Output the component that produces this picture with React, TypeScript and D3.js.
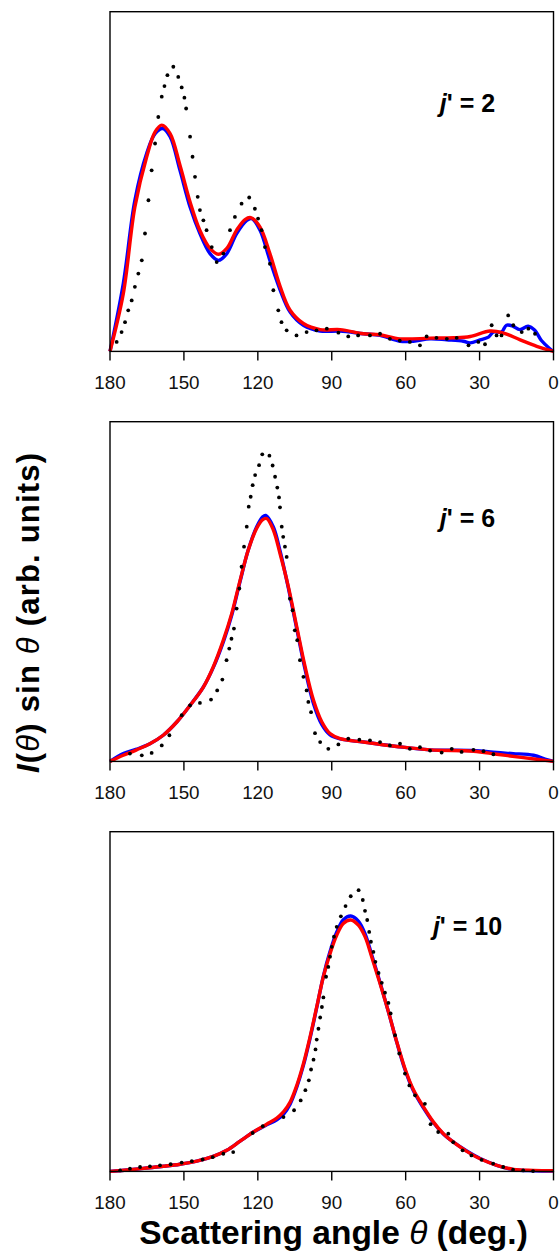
import * as d3 from "d3";

// angle (deg), intensity (arb.)
const j2Dots: [number, number][] = [
  [177.3, 0.028], [175.3, 0.057], [173.9, 0.086], [172.6, 0.121], [171.2, 0.15], [169.9, 0.19],
  [168.5, 0.229], [167.1, 0.268], [165.8, 0.347], [164.4, 0.445], [163.1, 0.533], [161.7, 0.612],
  [160.4, 0.69], [159.0, 0.75], [157.9, 0.781], [156.7, 0.813], [154.3, 0.838], [152.3, 0.808],
  [150.9, 0.777], [149.8, 0.747], [149.1, 0.715], [147.5, 0.632], [146.5, 0.573], [145.5, 0.514],
  [144.4, 0.455], [143.5, 0.416], [142.1, 0.386], [140.8, 0.357], [138.7, 0.307], [136.7, 0.263],
  [134.0, 0.288], [131.3, 0.357], [129.3, 0.396], [126.6, 0.435], [123.5, 0.453], [121.2, 0.42],
  [119.9, 0.391], [118.5, 0.357], [117.1, 0.307], [115.1, 0.258], [113.7, 0.18], [111.7, 0.121],
  [110.4, 0.086], [108.3, 0.062], [104.3, 0.047], [100.2, 0.057], [96.2, 0.062], [92.0, 0.067],
  [87.3, 0.055], [83.3, 0.044], [79.3, 0.047], [74.5, 0.047], [70.4, 0.052], [66.4, 0.037],
  [62.4, 0.032], [58.3, 0.028], [54.2, 0.018], [51.5, 0.044], [47.5, 0.04], [43.3, 0.037],
  [39.3, 0.04], [34.5, 0.018], [30.5, 0.028], [27.8, 0.021], [25.1, 0.077], [23.1, 0.047],
  [21.1, 0.047], [18.4, 0.106], [16.3, 0.077], [12.9, 0.057], [10.2, 0.067], [7.5, 0.052],
];
const j2Blue: [number, number][] = [
  [180, 0], [174.6, 0.2], [169.9, 0.445], [165.1, 0.583], [161.7, 0.641], [158.6, 0.656],
  [155.6, 0.632], [151.6, 0.533], [147.5, 0.425], [143.5, 0.347], [139.4, 0.288], [136.0, 0.268],
  [132.6, 0.288], [128.6, 0.347], [124.5, 0.386], [122.5, 0.391], [119.1, 0.357], [115.1, 0.268],
  [110.9, 0.18], [106.9, 0.116], [101.5, 0.077], [94.7, 0.06], [86.6, 0.06], [77.1, 0.052],
  [70.4, 0.047], [62.3, 0.03], [56.9, 0.03], [50.1, 0.037], [43.3, 0.034], [36.6, 0.03],
  [33.8, 0.025], [29.8, 0.034], [26.4, 0.042], [24.4, 0.057], [21.1, 0.057], [19.1, 0.077],
  [16.4, 0.074], [13.7, 0.064], [10.3, 0.074], [7.6, 0.062], [4.9, 0.032], [1.5, 0.008], [0, 0],
];
const j2Red: [number, number][] = [
  [180, 0], [174.6, 0.17], [169.9, 0.425], [165.1, 0.573], [161.7, 0.646], [159.0, 0.666],
  [155.6, 0.641], [151.6, 0.548], [147.5, 0.44], [143.5, 0.356], [139.4, 0.303], [136.0, 0.286],
  [132.6, 0.303], [128.6, 0.357], [125.2, 0.388], [122.9, 0.394], [119.1, 0.366], [115.1, 0.288],
  [110.9, 0.19], [106.9, 0.121], [101.5, 0.082], [94.7, 0.064], [86.6, 0.064], [77.1, 0.052],
  [70.4, 0.049], [62.3, 0.037], [50.1, 0.039], [40.6, 0.04], [33.8, 0.044], [25.7, 0.06],
  [20.3, 0.054], [13.5, 0.034], [6.8, 0.015], [0, 0],
];

const j6Dots: [number, number][] = [
  [171.9, 0.023], [167.1, 0.018], [163.1, 0.025], [159.0, 0.047], [155.9, 0.077], [150.9, 0.136],
  [147.5, 0.165], [143.5, 0.172], [139.0, 0.182], [136.5, 0.209], [134.4, 0.241], [132.7, 0.298],
  [131.6, 0.332], [130.7, 0.361], [129.7, 0.391], [128.6, 0.45], [127.5, 0.509], [126.6, 0.573],
  [125.6, 0.632], [124.5, 0.691], [123.7, 0.75], [122.9, 0.779], [122.1, 0.813], [121.1, 0.843],
  [119.5, 0.872], [118.2, 0.904], [115.3, 0.9], [114.0, 0.871], [113.0, 0.838], [112.1, 0.806],
  [111.4, 0.777], [111.0, 0.748], [110.3, 0.691], [109.7, 0.661], [109.0, 0.632], [108.3, 0.602],
  [107.0, 0.479], [105.9, 0.445], [105.0, 0.386], [104.0, 0.357], [102.9, 0.298], [101.5, 0.249],
  [100.2, 0.209], [99.5, 0.175], [98.4, 0.145], [96.8, 0.083], [94.7, 0.057], [91.4, 0.037],
  [87.3, 0.05], [83.3, 0.067], [78.8, 0.064], [74.5, 0.062], [70.4, 0.057], [66.4, 0.047],
  [62.3, 0.052], [58.3, 0.037], [54.2, 0.042], [50.1, 0.032], [45.4, 0.026], [41.3, 0.037],
  [37.3, 0.028], [32.5, 0.034], [28.4, 0.03], [24.4, 0.021],
];
const j6Blue: [number, number][] = [
  [180, 0], [174.6, 0.023], [169.2, 0.036], [163.8, 0.052], [158.4, 0.077], [152.9, 0.116],
  [147.5, 0.165], [142.1, 0.219], [138.1, 0.276], [134.0, 0.352], [130.6, 0.43], [127.2, 0.53],
  [123.9, 0.622], [120.5, 0.69], [118.0, 0.72], [116.8, 0.724], [113.7, 0.69], [111.0, 0.62],
  [107.6, 0.51], [104.2, 0.39], [100.8, 0.27], [97.4, 0.17], [94.0, 0.108], [90.7, 0.078],
  [86.6, 0.066], [77.1, 0.057], [63.6, 0.044], [50.1, 0.034], [32.5, 0.032], [23.0, 0.026],
  [16.3, 0.023], [8.1, 0.018], [2.7, 0.005], [0, 0],
];
const j6Red: [number, number][] = [
  [180, 0], [174.6, 0.018], [169.2, 0.034], [163.8, 0.052], [158.4, 0.077], [152.9, 0.116],
  [147.5, 0.165], [142.1, 0.219], [138.1, 0.278], [134.0, 0.357], [130.6, 0.435], [127.2, 0.533],
  [123.9, 0.622], [120.5, 0.686], [118.0, 0.712], [116.4, 0.715], [113.7, 0.681], [111.0, 0.612],
  [107.6, 0.514], [104.2, 0.396], [100.8, 0.278], [97.4, 0.18], [94.0, 0.116], [90.7, 0.082],
  [86.6, 0.067], [77.1, 0.057], [63.6, 0.044], [50.1, 0.034], [32.5, 0.03], [23.0, 0.021],
  [12.2, 0.011], [5.4, 0.005], [0, 0],
];

const j10Dots: [number, number][] = [
  [175.9, 0.003], [171.9, 0.008], [167.8, 0.013], [163.8, 0.015], [159.7, 0.018], [155.4, 0.021],
  [150.9, 0.026], [146.8, 0.03], [142.4, 0.035], [138.3, 0.042], [134.0, 0.052], [130.0, 0.057],
  [122.1, 0.113], [118.0, 0.133], [109.6, 0.16], [105.3, 0.18], [102.6, 0.209], [100.7, 0.239],
  [99.3, 0.268], [98.4, 0.3], [97.4, 0.329], [96.6, 0.359], [96.1, 0.388], [95.4, 0.42],
  [94.7, 0.453], [94.0, 0.484], [93.4, 0.512], [92.3, 0.573], [91.4, 0.602], [90.7, 0.632],
  [90.0, 0.661], [89.1, 0.691], [88.0, 0.72], [86.3, 0.751], [84.4, 0.781], [82.3, 0.81],
  [79.1, 0.828], [77.4, 0.799], [76.5, 0.767], [75.6, 0.74], [74.8, 0.705], [74.1, 0.676],
  [73.1, 0.646], [72.3, 0.617], [71.0, 0.584], [69.7, 0.555], [68.4, 0.526], [67.0, 0.496],
  [66.1, 0.465], [64.3, 0.401], [62.6, 0.347], [60.3, 0.288], [58.5, 0.253], [56.2, 0.224],
  [52.2, 0.199], [49.9, 0.139], [46.8, 0.116], [42.7, 0.111], [40.7, 0.086], [36.9, 0.062],
  [33.3, 0.047], [29.2, 0.034], [24.5, 0.023], [20.4, 0.013], [16.4, 0.005], [12.3, 0.003],
  [8.3, 0.001],
];
const j10Blue: [number, number][] = [
  [180, 0], [171.9, 0.005], [165.1, 0.01], [158.3, 0.015], [151.6, 0.021], [144.8, 0.03],
  [138.1, 0.044], [132.6, 0.062], [127.2, 0.089], [121.8, 0.116], [116.4, 0.137], [112.3, 0.152],
  [109.6, 0.168], [106.9, 0.198], [104.2, 0.248], [101.5, 0.312], [98.8, 0.392], [96.1, 0.482],
  [93.4, 0.575], [90.7, 0.647], [88.0, 0.704], [85.3, 0.741], [82.3, 0.752], [79.2, 0.737],
  [76.5, 0.7], [73.8, 0.638], [70.4, 0.556], [67.0, 0.47], [63.6, 0.38], [60.3, 0.3],
  [56.9, 0.238], [52.8, 0.187], [48.7, 0.143], [44.7, 0.11], [40.6, 0.086], [35.2, 0.06],
  [29.8, 0.038], [23.0, 0.018], [16.3, 0.005], [8.1, 0.002], [0, 0.001],
];
const j10Red: [number, number][] = [
  [180, 0], [171.9, 0.005], [165.1, 0.01], [158.3, 0.015], [151.6, 0.021], [144.8, 0.03],
  [138.1, 0.044], [132.6, 0.062], [127.2, 0.089], [121.8, 0.116], [116.4, 0.139], [112.3, 0.157],
  [109.6, 0.175], [106.9, 0.204], [104.2, 0.253], [101.5, 0.317], [98.8, 0.396], [96.1, 0.484],
  [93.4, 0.573], [90.7, 0.641], [88.0, 0.695], [85.3, 0.73], [82.3, 0.74], [79.2, 0.725],
  [76.5, 0.691], [73.8, 0.632], [70.4, 0.553], [67.0, 0.47], [63.6, 0.381], [60.3, 0.303],
  [56.9, 0.241], [52.8, 0.19], [48.7, 0.145], [44.7, 0.111], [40.6, 0.086], [35.2, 0.059],
  [29.8, 0.037], [23.0, 0.018], [16.3, 0.006], [8.1, 0.003], [0, 0.002],
];

const xTicks = [180, 150, 120, 90, 60, 30, 0];
const panelLabels = ["2", "6", "10"];

const W = 559;
const H = 1252;
const left = 110;
const right = 553.5;
const panelTops = [11.7, 421.7, 831.7];
const labelLevel = [0.706, 0.69, 0.696];
const panelH = 339.7;
const font = "Arial, 'Liberation Sans', sans-serif";

function Panel({top, dots, blue, red, label, labelAt}: {
  top: number; dots: [number, number][]; blue: [number, number][]; red: [number, number][];
  label: string; labelAt: number;
}) {
  const x = d3.scaleLinear().domain([180, 0]).range([left, right]);
  const y = d3.scaleLinear().domain([0, 1]).range([top + panelH, top]);
  const line = d3.line<[number, number]>()
    .x(d => x(d[0]))
    .y(d => y(d[1]))
    .curve(d3.curveCatmullRom.alpha(0.5));
  const bottom = top + panelH;

  return (
    <g>
      <path d={line(blue) ?? ""} fill="none" stroke="#0000ff" strokeWidth={3.4} strokeLinejoin="round"/>
      <path d={line(red) ?? ""} fill="none" stroke="#ff0000" strokeWidth={3.4} strokeLinejoin="round"/>
      {dots.map((d, i) => (
        <circle key={i} cx={x(d[0])} cy={y(d[1])} r={1.9} fill="#000"/>
      ))}
      <rect x={left} y={top} width={right - left} height={panelH} fill="none" stroke="#000" strokeWidth={1.4}/>
      {xTicks.map(t => (
        <g key={t}>
          <line x1={x(t)} x2={x(t)} y1={bottom} y2={bottom + 9} stroke="#000" strokeWidth={1.4}/>
          <text x={x(t)} y={bottom + 37.5} textAnchor="middle" fontFamily={font} fontSize={18.8} fill="#111">{t}</text>
        </g>
      ))}
      <text x={467.5} y={y(labelAt)} textAnchor="middle" fontFamily={font} fontSize={25} fontWeight="bold">
        <tspan fontStyle="italic">j</tspan>' = {label}
      </text>
    </g>
  );
}

export default function App() {
  const sets = [
    {dots: j2Dots, blue: j2Blue, red: j2Red},
    {dots: j6Dots, blue: j6Blue, red: j6Red},
    {dots: j10Dots, blue: j10Blue, red: j10Red},
  ];
  return (
    <svg width={W} height={H} style={{position: "absolute", left: 0, top: 0, background: "#fff"}}>
      {sets.map((s, i) => (
        <Panel key={i} top={panelTops[i]} dots={s.dots} blue={s.blue} red={s.red}
               label={panelLabels[i]} labelAt={labelLevel[i]}/>
      ))}
      <text transform="translate(39,613) rotate(-90)" textAnchor="middle" fontFamily={font}
            fontSize={31} fontWeight="bold" textLength={320} lengthAdjust="spacing">
        <tspan fontStyle="italic">I</tspan>(<tspan fontStyle="italic" fontWeight="normal">θ</tspan>) sin <tspan fontStyle="italic" fontWeight="normal">θ</tspan> (arb. units)
      </text>
      <text x={333.5} y={1243.5} textAnchor="middle" fontFamily={font} fontSize={33.5} fontWeight="bold">
        Scattering angle <tspan fontStyle="italic" fontWeight="normal">θ</tspan> (deg.)
      </text>
    </svg>
  );
}
